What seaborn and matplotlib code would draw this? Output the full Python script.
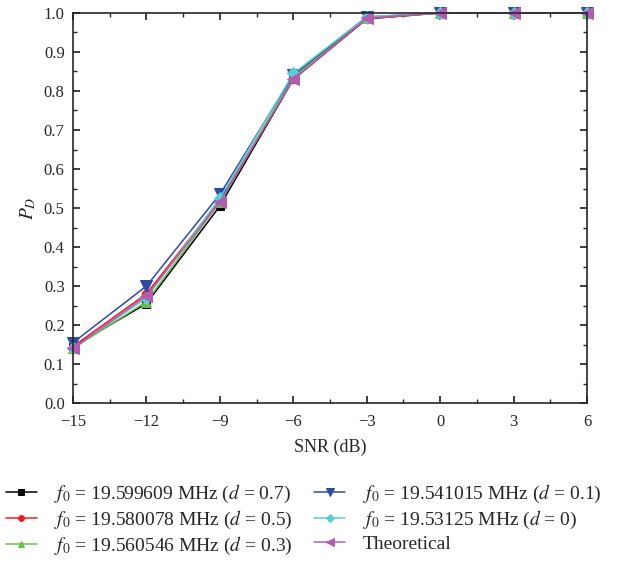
import numpy as np
import pandas as pd
import matplotlib
matplotlib.use("Agg")
import matplotlib.pyplot as plt
from matplotlib.ticker import MultipleLocator
import seaborn as sns

snr = [-15, -12, -9, -6, -3, 0, 3, 6]
pd_d07 = [0.145, 0.255, 0.505, 0.830, 0.985, 1.0, 1.0, 1.0]
pd_d05 = [0.145, 0.280, 0.520, 0.830, 0.985, 1.0, 1.0, 1.0]
pd_d03 = [0.140, 0.260, 0.515, 0.835, 0.987, 1.0, 1.0, 1.0]
pd_d01 = [0.155, 0.300, 0.535, 0.840, 0.990, 1.0, 1.0, 1.0]
pd_d00 = [0.140, 0.270, 0.525, 0.845, 0.990, 1.0, 1.0, 1.0]
pd_theo = [0.140, 0.275, 0.515, 0.830, 0.987, 1.0, 1.0, 1.0]

labels = [
    r"$f_0$ = 19.599609 MHz ($d$ = 0.7)",
    r"$f_0$ = 19.580078 MHz ($d$ = 0.5)",
    r"$f_0$ = 19.560546 MHz ($d$ = 0.3)",
    r"$f_0$ = 19.541015 MHz ($d$ = 0.1)",
    r"$f_0$ = 19.53125 MHz ($d$ = 0)",
    "Theoretical",
]
series = [pd_d07, pd_d05, pd_d03, pd_d01, pd_d00, pd_theo]
colors = ["#000000", "#ee1c25", "#6cbf4a", "#2f4b9f", "#5ccbd3", "#b25db0"]
markers = ["s", "o", "^", "v", "D", "<"]
msizes = [6, 6, 7, 8, 6, 8]

sns.set_theme(style="ticks")
plt.rcParams["font.family"] = ["Liberation Serif", "DejaVu Serif"]
plt.rcParams["mathtext.fontset"] = "stix"

fig = plt.figure(figsize=(6.43, 5.63), dpi=100)
ax = fig.add_axes([0.1135, 0.284, 0.7995, 0.693])

for lab, vals, c, m, ms in zip(labels, series, colors, markers, msizes):
    df = pd.DataFrame({"SNR": snr, "PD": vals})
    sns.lineplot(data=df, x="SNR", y="PD", ax=ax, color=c, marker=m,
                 markersize=ms, markeredgecolor=c, linewidth=1.1, label=lab,
                 clip_on=False)

ax.set_xlim(-15, 6)
ax.set_ylim(0, 1.0)
ax.xaxis.set_major_locator(MultipleLocator(3))
ax.xaxis.set_minor_locator(MultipleLocator(1.5))
ax.yaxis.set_major_locator(MultipleLocator(0.1))
ax.yaxis.set_minor_locator(MultipleLocator(0.05))
ax.set_xticks(snr)
ax.set_xticklabels(["\u221215", "\u221212", "\u22129", "\u22126", "\u22123", "0", "3", "6"])
ax.tick_params(which="both", direction="in", top=True, right=True, labelsize=12)
ax.tick_params(which="major", length=5)
ax.tick_params(which="minor", length=3)
ax.tick_params(axis="x", pad=8)
ax.tick_params(axis="y", pad=6)
for s in ax.spines.values():
    s.set_linewidth(1.2)
ax.set_xlabel("SNR (dB)", fontsize=13, labelpad=6)
ax.set_ylabel(r"$P_D$", fontsize=14)

ax.legend(loc="upper left", bbox_to_anchor=(-0.165, -0.16), ncol=2, frameon=False,
          fontsize=14, handlelength=1.6, columnspacing=1.1, labelspacing=0.2,
          handletextpad=0.9, markerscale=0.7)

fig.savefig("out.png", dpi=100)
